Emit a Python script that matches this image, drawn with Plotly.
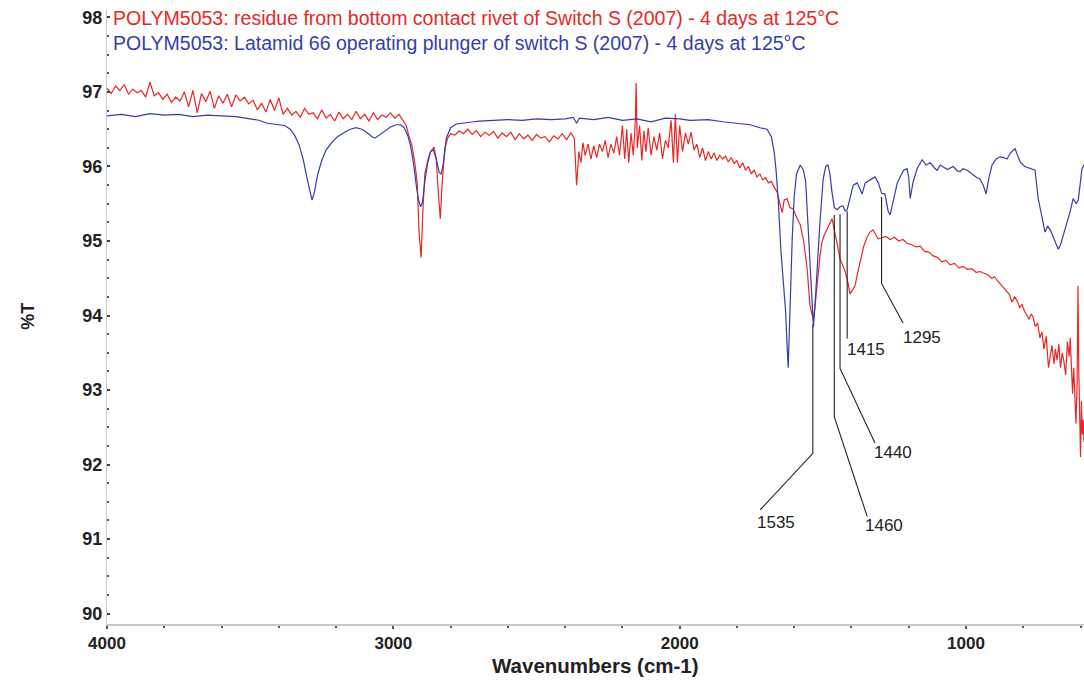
import plotly.graph_objects as go

# ---------------- data ----------------
red_wn = [4000, 3985, 3970, 3955, 3940, 3925, 3910, 3895, 3880, 3865, 3850, 3835, 3820, 3805, 3790,
          3775, 3760, 3745, 3730, 3715, 3700, 3685, 3670, 3655, 3640, 3625, 3610, 3595, 3580, 3565,
          3550, 3535, 3520, 3505, 3490, 3475, 3460, 3445, 3430, 3415, 3400, 3385, 3370, 3355, 3340,
          3325, 3310, 3295, 3280, 3265, 3250, 3235, 3220, 3205, 3190, 3175, 3160, 3145, 3130, 3115,
          3100, 3085, 3070, 3055, 3040, 3025, 3010, 2995, 2980, 2965, 2955, 2945, 2935, 2925, 2917,
          2910, 2903, 2897, 2890, 2880, 2870, 2858, 2850, 2843, 2836, 2830, 2820, 2810, 2800, 2785,
          2770, 2755, 2740, 2725, 2710, 2695, 2680, 2665, 2650, 2635, 2620, 2605, 2590, 2575, 2560,
          2545, 2530, 2515, 2500, 2485, 2470, 2455, 2440, 2425, 2410, 2395, 2380, 2368, 2360, 2352,
          2345, 2338, 2330, 2320, 2310, 2300, 2290, 2280, 2270, 2260, 2250, 2240, 2230, 2220, 2210,
          2200, 2192, 2185, 2178, 2170, 2162, 2155, 2152, 2148, 2140, 2132, 2125, 2118, 2110, 2100,
          2090, 2080, 2070, 2060, 2050, 2040, 2030, 2022, 2015, 2008, 2000, 1990, 1980, 1970, 1960,
          1950, 1940, 1930, 1920, 1910, 1900, 1890, 1880, 1870, 1860, 1850, 1840, 1830, 1820, 1810,
          1800, 1790, 1780, 1770, 1760, 1750, 1740, 1730, 1720, 1710, 1700, 1690, 1680, 1670, 1660,
          1650, 1642, 1635, 1625, 1615, 1604, 1592, 1579, 1567, 1555, 1545, 1538, 1534, 1528, 1520,
          1510, 1503, 1495, 1485, 1475, 1468, 1460, 1455, 1447, 1440, 1432, 1422, 1413, 1405, 1395,
          1387, 1378, 1370, 1358, 1346, 1335, 1325, 1315, 1307, 1295, 1280, 1265, 1250, 1235, 1220,
          1206, 1190, 1175, 1160, 1145, 1130, 1115, 1100, 1085, 1070, 1056, 1040, 1025, 1010, 996,
          980, 965, 950, 940, 925, 910, 900, 891, 880, 870, 857, 848, 840, 830, 822,
          812, 805, 795, 787, 780, 772, 766, 758, 750, 742, 735, 728, 720, 712, 706,
          700, 693, 688, 682, 676, 670, 664, 658, 652, 646, 640, 636, 632, 628, 624,
          620, 616, 612, 609, 606, 603, 600, 597, 594, 591, 588]
red_t = [97.05, 96.98, 97.08, 97.02, 97.10, 96.97, 97.04, 96.99, 97.02, 96.93, 97.13, 96.95, 96.99, 96.90, 96.97,
         96.86, 96.93, 96.88, 97.00, 96.80, 97.02, 96.72, 96.98, 96.87, 97.01, 96.78, 96.95, 96.85, 96.97, 96.80,
         96.96, 96.88, 96.93, 96.84, 96.89, 96.76, 96.85, 96.73, 96.90, 96.75, 96.92, 96.70, 96.78, 96.69, 96.74,
         96.66, 96.78, 96.70, 96.72, 96.64, 96.76, 96.65, 96.70, 96.61, 96.73, 96.64, 96.70, 96.63, 96.74, 96.64,
         96.70, 96.61, 96.72, 96.63, 96.69, 96.66, 96.72, 96.65, 96.70, 96.62, 96.55, 96.40, 96.28, 96.05, 95.79,
         95.10, 94.78, 95.40, 95.90, 96.08, 96.20, 96.26, 96.10, 95.65, 95.30, 95.75, 96.25, 96.38, 96.44, 96.42,
         96.48, 96.44, 96.50, 96.43, 96.48, 96.40, 96.46, 96.42, 96.47, 96.38, 96.45, 96.40, 96.46, 96.36, 96.44,
         96.37, 96.42, 96.35, 96.43, 96.38, 96.40, 96.33, 96.41, 96.37, 96.44, 96.36, 96.45, 96.38, 95.75, 96.20,
         96.05, 96.32, 96.15, 96.30, 96.10, 96.28, 96.12, 96.30, 96.20, 96.35, 96.12, 96.30, 96.18, 96.40, 96.15,
         96.55, 96.10, 96.50, 96.05, 96.45, 96.15, 96.60, 97.12, 96.25, 96.55, 96.08, 96.48, 96.20, 96.52, 96.15,
         96.40, 96.22, 96.45, 96.10, 96.35, 96.25, 96.62, 96.05, 96.70, 96.05, 96.55, 96.20, 96.45, 96.30, 96.46,
         96.22, 96.30, 96.12, 96.25, 96.08, 96.20, 96.10, 96.18, 96.08, 96.15, 96.10, 96.14, 96.06, 96.12, 96.04,
         96.08, 95.98, 96.05, 95.95, 96.00, 95.90, 95.95, 95.86, 95.90, 95.82, 95.85, 95.78, 95.80, 95.72, 95.66,
         95.50, 95.38, 95.55, 95.57, 95.45, 95.43, 95.32, 95.22, 95.00, 94.63, 94.14, 94.00, 93.95, 94.10, 94.45,
         94.80, 94.99, 95.08, 95.16, 95.25, 95.30, 95.15, 95.03, 94.90, 94.76, 94.68, 94.59, 94.45, 94.29, 94.35,
         94.41, 94.58, 94.72, 94.92, 95.05, 95.12, 95.15, 95.08, 95.03, 95.04, 95.06, 95.02, 95.05, 95.00, 95.02,
         94.97, 94.95, 94.92, 94.93, 94.86, 94.85, 94.80, 94.78, 94.72, 94.74, 94.68, 94.70, 94.64, 94.66, 94.62,
         94.63, 94.58, 94.59, 94.57, 94.55, 94.50, 94.52, 94.47, 94.42, 94.38, 94.32, 94.28, 94.18, 94.25, 94.20,
         94.10, 94.15, 94.05, 94.00, 93.95, 94.02, 93.98, 93.85, 93.90, 93.70, 93.78, 93.55, 93.72, 93.30, 93.45,
         93.60, 93.35, 93.55, 93.40, 93.62, 93.30, 93.50, 93.38, 93.20, 93.65, 93.45, 93.70, 93.20, 92.95, 93.30,
         92.80, 92.55, 93.10, 94.40, 93.20, 92.30, 92.10, 92.85, 92.40, 92.60, 92.30]

blue_wn = [4000, 3950, 3900, 3850, 3800, 3750, 3700, 3650, 3600, 3550, 3500, 3470, 3440, 3410, 3380,
           3360, 3345, 3330, 3315, 3300, 3290, 3284, 3276, 3265, 3250, 3235, 3215, 3195, 3170, 3150,
           3130, 3110, 3090, 3075, 3064, 3050, 3030, 3010, 2990, 2975, 2962, 2950, 2940, 2930, 2920,
           2912, 2905, 2898, 2890, 2880, 2870, 2860, 2850, 2840, 2833, 2825, 2815, 2800, 2780, 2750,
           2720, 2700, 2650, 2600, 2550, 2500, 2450, 2400, 2372, 2360, 2350, 2300, 2250, 2200, 2150,
           2100, 2050, 2000, 1964, 1900, 1850, 1800, 1754, 1720, 1695, 1680, 1670, 1663, 1655, 1647,
           1639, 1630, 1625, 1621, 1617, 1612, 1607, 1600, 1592, 1579, 1568, 1560, 1552, 1545, 1538,
           1533, 1528, 1520, 1510, 1499, 1490, 1482, 1475, 1468, 1460, 1450, 1440, 1430, 1422, 1415,
           1405, 1394, 1380, 1370, 1363, 1352, 1335, 1318, 1306, 1295, 1283, 1272, 1265, 1255, 1240,
           1230, 1218, 1206, 1200, 1195, 1185, 1170, 1153, 1140, 1125, 1110, 1101, 1090, 1080, 1065,
           1045, 1030, 1021, 1010, 996, 980, 965, 951, 940, 930, 920, 909, 895, 881, 868,
           857, 845, 829, 820, 811, 795, 776, 759, 748, 735, 724, 715, 706, 695, 689,
           678, 670, 664, 655, 647, 636, 626, 615, 608, 600, 595, 588]
blue_t = [96.68, 96.70, 96.67, 96.71, 96.69, 96.70, 96.67, 96.69, 96.68, 96.67, 96.64, 96.62, 96.58, 96.56, 96.55,
          96.50, 96.42, 96.30, 96.10, 95.82, 95.62, 95.55, 95.65, 95.88, 96.08, 96.22, 96.32, 96.40, 96.46, 96.50,
          96.52, 96.50, 96.45, 96.40, 96.38, 96.42, 96.48, 96.53, 96.56, 96.56, 96.52, 96.42, 96.28, 96.05, 95.75,
          95.55, 95.46, 95.52, 95.80, 96.05, 96.20, 96.22, 96.10, 95.92, 95.90, 96.05, 96.38, 96.52, 96.57, 96.59,
          96.60, 96.61, 96.62, 96.63, 96.62, 96.64, 96.63, 96.64, 96.66, 96.58, 96.65, 96.63, 96.66, 96.62, 96.64,
          96.60, 96.65, 96.64, 96.62, 96.63, 96.60, 96.58, 96.56, 96.52, 96.50, 96.40, 96.20, 95.93, 95.50, 94.90,
          94.45, 94.05, 93.60, 93.30, 93.80, 94.50, 95.03, 95.60, 95.90, 96.02, 95.95, 95.80, 95.26, 94.70, 94.20,
          93.85, 94.10, 94.70, 95.26, 95.83, 96.00, 96.02, 95.89, 95.65, 95.45, 95.42, 95.46, 95.47, 95.40, 95.42,
          95.57, 95.75, 95.78, 95.68, 95.63, 95.78, 95.82, 95.86, 95.78, 95.64, 95.63, 95.40, 95.35, 95.52, 95.78,
          95.86, 95.95, 95.97, 95.85, 95.57, 95.79, 95.98, 96.09, 96.02, 96.05, 95.98, 95.95, 96.02, 96.00, 95.96,
          96.00, 95.94, 95.93, 95.97, 95.95, 95.90, 95.86, 95.83, 95.75, 95.63, 95.85, 96.02, 96.10, 96.13, 96.12,
          96.10, 96.18, 96.24, 96.15, 96.06, 96.00, 95.97, 95.95, 95.57, 95.30, 95.12, 95.20, 95.15, 95.05, 94.99,
          94.89, 94.95, 95.03, 95.15, 95.26, 95.40, 95.57, 95.50, 95.55, 95.80, 95.97, 96.02]

red_name = "POLYM5053: residue from bottom contact rivet of Switch S (2007) - 4 days at 125\u00b0C"
blue_name = "POLYM5053: Latamid 66 operating plunger of switch S (2007) - 4 days at 125\u00b0C"

peak_labels = ["1535", "1460", "1440", "1415", "1295"]
peak_wn = [1535, 1460, 1440, 1415, 1295]

y_ticks = [90, 91, 92, 93, 94, 95, 96, 97, 98]
x_ticks = [4000, 3000, 2000, 1000]

# leader-line layout for each peak label: (top %T, elbow %T, end wn, end %T, label wn, label %T)
leader_layout = [
    (93.88, 92.15, 1719, 91.39, 1662, 91.22),
    (95.35, 92.64, 1345, 91.30, 1285, 91.18),
    (95.36, 93.29, 1318, 92.29, 1254, 92.16),
    (95.40, 93.69, 1415, 93.69, 1348, 93.55),
    (95.59, 94.43, 1220, 93.90, 1155, 93.71),
]

RED = "rgb(232,40,38)"
BLUE = "rgb(52,62,168)"
FONT = "Liberation Sans"

fig = go.Figure()
fig.add_trace(go.Scatter(x=red_wn, y=red_t, mode="lines", name=red_name,
                         line=dict(color=RED, width=1.2)))
fig.add_trace(go.Scatter(x=blue_wn, y=blue_t, mode="lines", name=blue_name,
                         line=dict(color=BLUE, width=1.2)))

annotations = []
for lab, wn, (top, elbow, ex, ey, lx, ly) in zip(peak_labels, peak_wn, leader_layout):
    fig.add_trace(go.Scatter(x=[wn, wn, ex], y=[top, elbow, ey], mode="lines",
                             line=dict(color="#222222", width=1.1), showlegend=False,
                             hoverinfo="skip"))
    annotations.append(dict(x=lx, y=ly, xref="x", yref="y", text=lab, showarrow=False,
                            font=dict(family=FONT, size=17, color="#222222"),
                            xanchor="center", yanchor="middle"))

# legend-like coloured title lines
annotations.append(dict(x=0.004, y=0.987, xref="paper", yref="paper", text=red_name,
                        showarrow=False, xanchor="left", yanchor="middle",
                        font=dict(family=FONT, size=19.5, color=RED)))
annotations.append(dict(x=0.004, y=0.946, xref="paper", yref="paper", text=blue_name,
                        showarrow=False, xanchor="left", yanchor="middle",
                        font=dict(family=FONT, size=19.5, color=BLUE)))
# axis titles
annotations.append(dict(x=-0.081, y=0.502, xref="paper", yref="paper", text="%T",
                        showarrow=False, textangle=-90, xanchor="center", yanchor="middle",
                        font=dict(family=FONT, size=18, color="#222222", weight="bold")))
annotations.append(dict(x=0.5005, y=-0.067, xref="paper", yref="paper",
                        text="Wavenumbers (cm-1)", showarrow=False,
                        xanchor="center", yanchor="middle",
                        font=dict(family=FONT, size=20.5, color="#222222", weight="bold")))

fig.update_layout(
    width=1084, height=681,
    margin=dict(l=107, r=0, t=10, b=57),
    paper_bgcolor="white", plot_bgcolor="white",
    showlegend=False,
    annotations=annotations,
    xaxis=dict(range=[4000, 588], tickvals=x_ticks, ticktext=[str(v) for v in x_ticks],
               showgrid=False, zeroline=False, showline=True, linecolor="#c8c8c8", linewidth=2,
               ticks="outside", ticklen=3, tickcolor="#555555", tickwidth=2,
               minor=dict(dtick=200, ticks="outside", ticklen=2, tickcolor="#555555", tickwidth=1.5),
               tickfont=dict(family=FONT, size=17, color="#222222", weight="bold")),
    yaxis=dict(range=[89.86, 98.1], tickvals=y_ticks, ticktext=[str(v) for v in y_ticks],
               showgrid=False, zeroline=False, showline=True, linecolor="#c8c8c8", linewidth=1,
               ticks="inside", ticklen=3, tickcolor="#444444", tickwidth=2,
               minor=dict(dtick=0.25, ticks="inside", ticklen=2, tickcolor="#555555", tickwidth=1.5),
               tickfont=dict(family=FONT, size=18, color="#222222", weight="bold")),
)

fig.write_html("out.html")
